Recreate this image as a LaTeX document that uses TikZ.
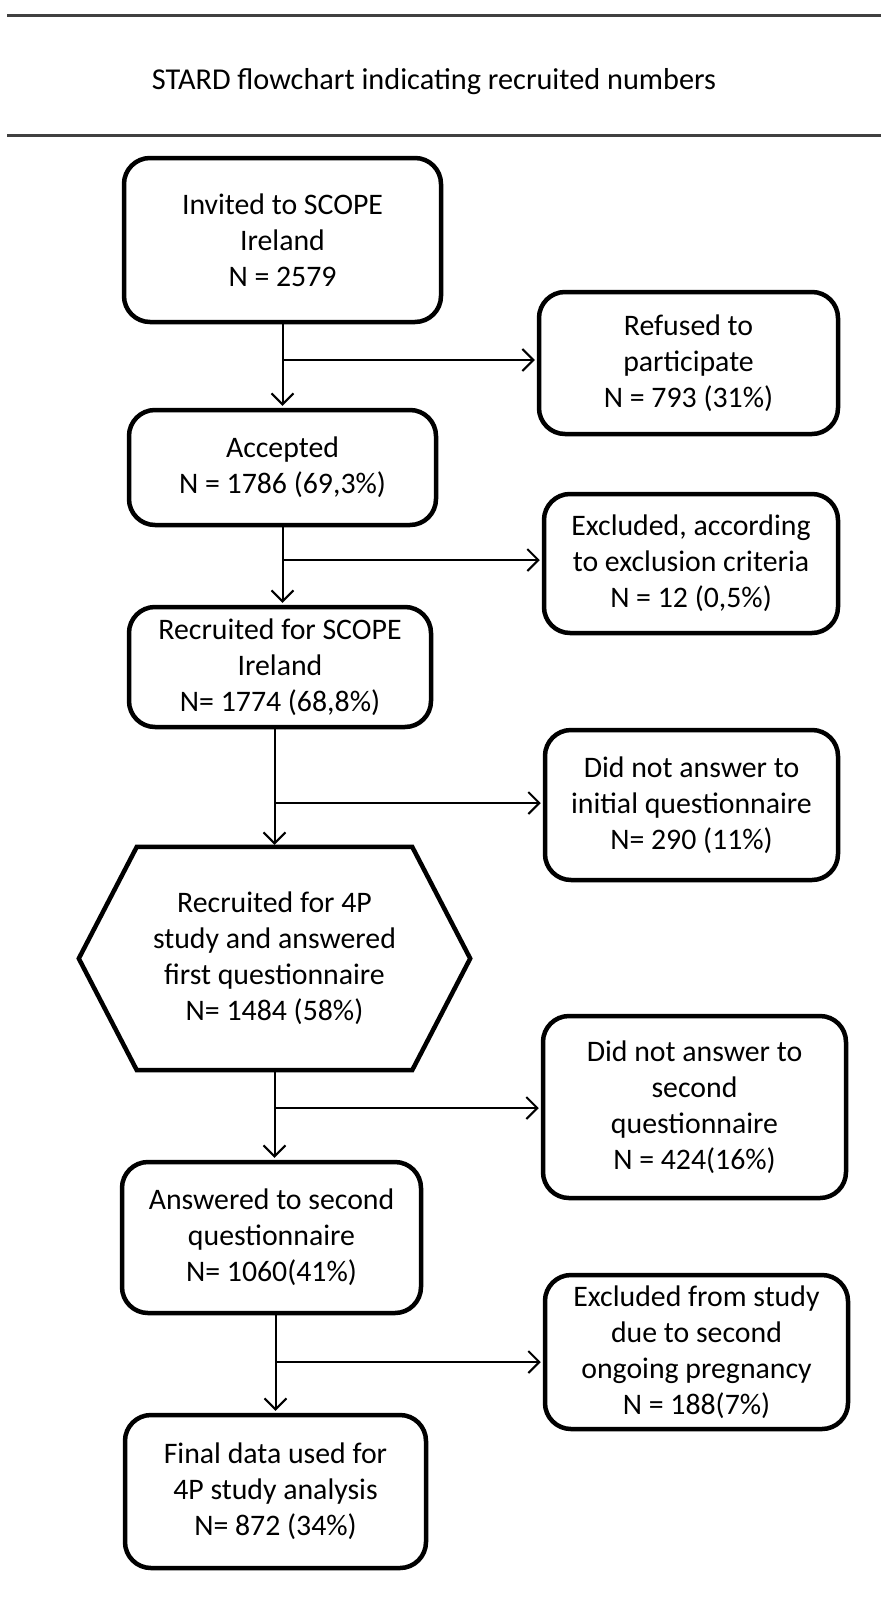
\documentclass[tikz,border=0pt]{standalone}
\usepackage{fontspec}
\setmainfont{Carlito}
\usetikzlibrary{arrows.meta,calc}
\begin{document}
\begin{tikzpicture}[x=1pt,y=-1pt,
  box/.style={draw, line width=4.5pt, rounded corners=26pt, align=center,
    font=\fontsize{29.8}{36}\selectfont, inner sep=0pt},
  hexnode/.style={align=center, font=\fontsize{29.8}{36}\selectfont, inner sep=0pt},
  hexline/.style={line width=4.5pt, line join=miter},
  arr/.style={line width=2pt, shorten >=2pt, -{Straight Barb[length=11pt,width=22pt,line width=2pt]}},
  rule/.style={line width=3pt, draw=black!75},
]
\useasboundingbox (0,0) rectangle (881,1606);
\draw[rule] (7,15) -- (881,15);
\draw[rule] (7,135) -- (881,135);
\node[font=\fontsize{30.3}{36}\selectfont] (T) at (434,82) {STARD flowchart indicating recruited numbers};

\node[box, minimum width=317pt, minimum height=164pt] (B1) at (282.5,240)
  {Invited to SCOPE\\Ireland\\N = 2579};
\node[box, minimum width=299pt, minimum height=142pt] (R1) at (688.5,363)
  {Refused to\\participate\\N = 793 (31\%)};
\node[box, minimum width=307pt, minimum height=115pt] (B2) at (282.5,467.5)
  {Accepted\\N = 1786 (69,3\%)};
\node[box, minimum width=294pt, minimum height=139pt] (R2) at (691,563.5)
  {Excluded, according\\to exclusion criteria\\N = 12 (0,5\%)};
\node[box, minimum width=302pt, minimum height=120pt] (B3) at (280,667)
  {Recruited for SCOPE\\Ireland\\N= 1774 (68,8\%)};
\node[box, minimum width=293pt, minimum height=150pt] (R3) at (691.5,805)
  {Did not answer to\\initial questionnaire\\N= 290 (11\%)};
\node[hexnode, minimum width=391pt, minimum height=223pt] (H) at (274.5,958.5)
  {Recruited for 4P\\study and answered\\first questionnaire\\N= 1484 (58\%)};
\draw[hexline] ($(H.north west)+(58,0)$) -- ($(H.north east)+(-58,0)$) -- (H.east)
  -- ($(H.south east)+(-58,0)$) -- ($(H.south west)+(58,0)$) -- (H.west) -- cycle;
\node[box, minimum width=303pt, minimum height=182pt] (R4) at (694.5,1107)
  {Did not answer to\\second\\questionnaire\\N = 424(16\%)};
\node[box, minimum width=299pt, minimum height=151pt] (B4) at (271.5,1237.5)
  {Answered to second\\questionnaire\\N= 1060(41\%)};
\node[box, minimum width=303pt, minimum height=154pt] (R5) at (696.5,1352)
  {Excluded from study\\due to second\\ongoing pregnancy\\N = 188(7\%)};
\node[box, minimum width=301pt, minimum height=153pt] (B5) at (275.5,1491.5)
  {Final data used for\\4P study analysis\\N= 872 (34\%)};

% junctions
\coordinate (j1) at (282.5,360);
\coordinate (j2) at (282.5,560);
\coordinate (j3) at (274.5,803);
\coordinate (j4) at (274.5,1108);
\coordinate (j5) at (275.5,1362);

\draw[arr] (B1.south) -- (B1.south |- B2.north);
\draw[arr] (j1) -- (j1 -| R1.west);
\draw[arr] (B2.south) -- (B2.south |- B3.north);
\draw[arr] (j2) -- (j2 -| R2.west);
\draw[arr] (B3.south -| H.north) -- (H.north);
\draw[arr] (j3) -- (j3 -| R3.west);
\draw[arr] (H.south) -- (H.south |- B4.north);
\draw[arr] (j4) -- (j4 -| R4.west);
\draw[arr] (B4.south -| B5.north) -- (B5.north);
\draw[arr] (j5) -- (j5 -| R5.west);
\end{tikzpicture}
\end{document}
